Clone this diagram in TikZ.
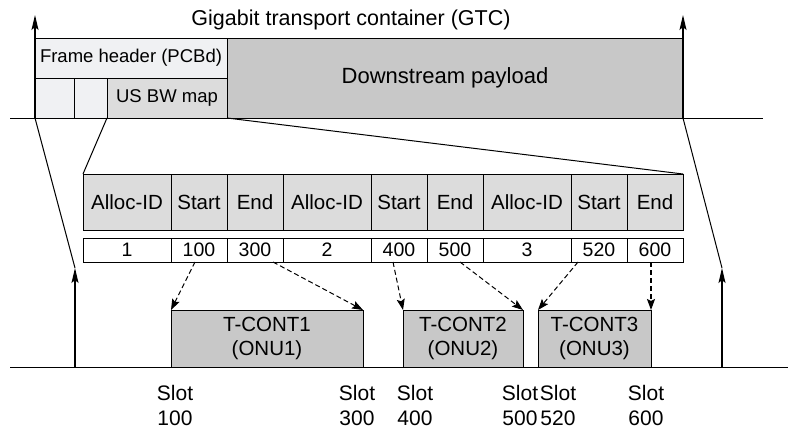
\documentclass[tikz,border=0pt]{standalone}
\usepackage{fontspec}
\setmainfont{Liberation Sans}
\usetikzlibrary{arrows.meta,calc}
\definecolor{hdrfill}{RGB}{240,241,243}
\definecolor{mapfill}{RGB}{220,220,220}
\definecolor{payfill}{RGB}{200,200,200}
\begin{document}
\begin{tikzpicture}[x=1pt,y=-1pt,
  txt/.style={font=\fontsize{20.5}{25}\selectfont},
  smalltxt/.style={font=\fontsize{18.5}{22}\selectfont},
  bigtxt/.style={font=\fontsize{21.5}{25}\selectfont},
  box/.style={draw, line width=1pt, inner sep=0pt, outer sep=0pt, anchor=north west, txt},
  hdr/.style={box, fill=mapfill, minimum height=56pt},
  val/.style={box, fill=white, minimum height=24pt, font=\fontsize{19.5}{24}\selectfont},
  tcont/.style={box, fill=payfill, minimum height=57pt, align=center, font=\fontsize{20.5}{24}\selectfont},
  slot/.style={align=center, anchor=base, font=\fontsize{21}{25}\selectfont},
  wire/.style={line width=1pt},
  bigarrow/.style={line width=1.6pt, -{Stealth[length=15pt,width=7pt,inset=3pt]}},
  dasharrow/.style={line width=1pt, dash pattern=on 5pt off 3pt, -{Stealth[length=11pt,width=8pt,inset=2pt]}}]
\useasboundingbox (0,0) rectangle (788,431);

% ---- downstream GTC frame ----
\node[anchor=base, bigtxt] (gtc) at (351,25) {Gigabit transport container (GTC)};
\node[box, fill=hdrfill, minimum width=192pt, minimum height=40pt, smalltxt] (fh) at (35,38) {Frame header (PCBd)};
\node[box, fill=hdrfill, minimum width=39pt, minimum height=40pt] (c1) at (35,78) {};
\node[box, fill=hdrfill, minimum width=33pt, minimum height=40pt] (c2) at (74,78) {};
\node[box, fill=mapfill, minimum width=120pt, minimum height=40pt, smalltxt] (map) at (107,78) {US BW map};
\node[box, fill=payfill, minimum width=456pt, minimum height=80pt] (pay) at (227,38) {};
\node[font=\fontsize{22}{26}\selectfont] (paytext) at (445,78) {Downstream payload};

\coordinate (tl) at (10,118);
\coordinate (tr) at (763,118);
\draw[wire] (tl) -- (tr);

% frame boundaries
\coordinate (upL) at (35,15);
\coordinate (upR) at (683,15);
\draw[bigarrow] (c1.south west) -- (upL);
\draw[bigarrow] (pay.south east) -- (upR);

% ---- bandwidth map table ----
\node[hdr, minimum width=88pt] (h1) at (83,174)  {Alloc-ID};
\node[hdr, minimum width=56pt] (h2) at (171,174) {Start};
\node[hdr, minimum width=56pt] (h3) at (227,174) {End};
\node[hdr, minimum width=88pt] (h4) at (283,174) {Alloc-ID};
\node[hdr, minimum width=56pt] (h5) at (371,174) {Start};
\node[hdr, minimum width=56pt] (h6) at (427,174) {End};
\node[hdr, minimum width=88pt] (h7) at (483,174) {Alloc-ID};
\node[hdr, minimum width=56pt] (h8) at (571,174) {Start};
\node[hdr, minimum width=56pt] (h9) at (627,174) {End};

\node[val, minimum width=88pt] (v1) at (83,238)  {1};
\node[val, minimum width=56pt] (v2) at (171,238) {100};
\node[val, minimum width=56pt] (v3) at (227,238) {300};
\node[val, minimum width=88pt] (v4) at (283,238) {2};
\node[val, minimum width=56pt] (v5) at (371,238) {400};
\node[val, minimum width=56pt] (v6) at (427,238) {500};
\node[val, minimum width=88pt] (v7) at (483,238) {3};
\node[val, minimum width=56pt] (v8) at (571,238) {520};
\node[val, minimum width=56pt] (v9) at (627,238) {600};

% zoom lines from the US BW map
\draw[wire] (c2.south east) -- (h1.north west);
\draw[wire] (map.south east) -- (h9.north east);

% ---- upstream frame ----
\coordinate (bl) at (10,367);
\coordinate (br) at (788,367);
\coordinate (footL) at (75,367);
\coordinate (tipL) at (75,268);
\coordinate (footR) at (722,367);
\coordinate (tipR) at (722,268);
\draw[wire] (c1.south west) -- (tipL);
\draw[wire] (pay.south east) -- (tipR);
\draw[bigarrow] (footL) -- (tipL);
\draw[bigarrow] (footR) -- (tipR);

\node[tcont, minimum width=192pt] (t1) at (171,310) {T-CONT1\\(ONU1)};
\node[tcont, minimum width=120pt] (t2) at (403,310) {T-CONT2\\(ONU2)};
\node[tcont, minimum width=113pt] (t3) at (538,310) {T-CONT3\\(ONU3)};

\draw[wire] (bl) -- (br);

% grants pointing at the burst edges
\draw[dasharrow] ($(v2.south)+(-4,0)$) -- (t1.north west);
\draw[dasharrow] ($(v3.south)+(18,0)$) -- (t1.north east);
\draw[dasharrow] ($(v5.south)+(-6,0)$) -- (t2.north west);
\draw[dasharrow] ($(v6.south)+(5,0)$) -- (t2.north east);
\draw[dasharrow] ($(v8.south)+(-21,0)$) -- (t3.north west);
\draw[dasharrow, line width=1.4pt] (v9.south -| t3.north east) -- (t3.north east);

% slot labels (base anchor sits on the number line)
\node[slot] (s100) at (175,425) {Slot\\100};
\node[slot] (s300) at (357,425) {Slot\\300};
\node[slot] (s400) at (415,425) {Slot\\400};
\node[slot] (s500) at (520,425) {Slot\\500};
\node[slot] (s520) at (558,425) {Slot\\520};
\node[slot] (s600) at (646,425) {Slot\\600};
\end{tikzpicture}
\end{document}
